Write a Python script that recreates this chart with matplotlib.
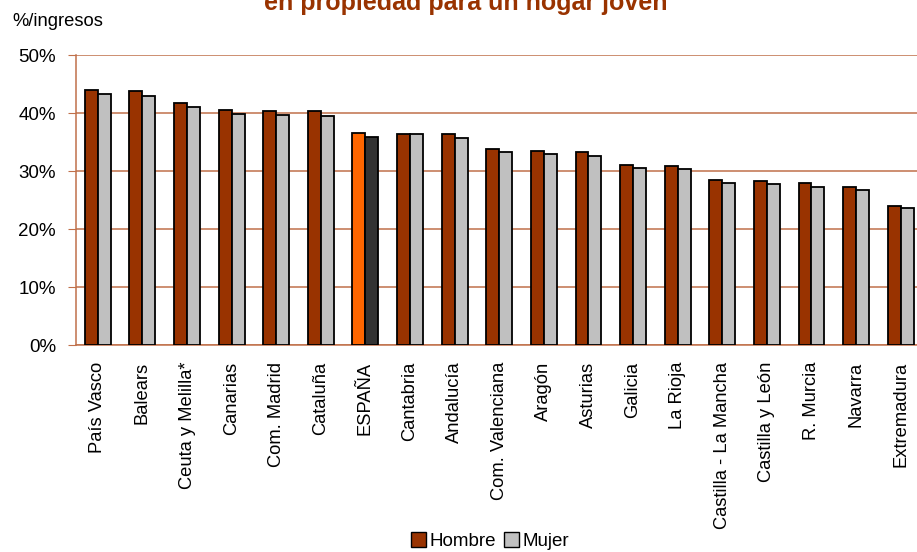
import matplotlib
matplotlib.use("Agg")
import matplotlib.pyplot as plt
import numpy as np
from matplotlib.patches import Patch

plt.rcParams['font.family'] = ['Liberation Sans', 'DejaVu Sans']

regions = ["País Vasco", "Balears", "Ceuta y Melilla*", "Canarias", "Com. Madrid",
           "Cataluña", "ESPAÑA", "Cantabria", "Andalucía", "Com. Valenciana",
           "Aragón", "Asturias", "Galicia", "La Rioja", "Castilla - La Mancha",
           "Castilla y León", "R. Murcia", "Navarra", "Extremadura"]
hombre = [44.0, 43.8, 41.7, 40.6, 40.3, 40.3, 36.6, 36.4, 36.4, 33.8,
          33.4, 33.2, 31.1, 30.8, 28.4, 28.2, 27.9, 27.2, 23.9]
mujer = [43.3, 43.0, 41.0, 39.9, 39.7, 39.5, 35.9, 36.3, 35.7, 33.2,
         32.9, 32.6, 30.5, 30.3, 27.9, 27.8, 27.3, 26.7, 23.7]
yticks = [0, 10, 20, 30, 40, 50]

c_h = "#993300"
c_m = "#C0C0C0"
c_h_esp = "#FF6600"
c_m_esp = "#333333"
grid_c = "#C0704A"

W, H = 917, 552
fig = plt.figure(figsize=(W / 100, H / 100), dpi=100)
ax = fig.add_axes([75.5 / W, 1 - 345 / H, (917 - 75.5) / W, 290 / H])

x = np.arange(len(regions))
bw = 0.29
cols_h = [c_h_esp if r == "ESPAÑA" else c_h for r in regions]
cols_m = [c_m_esp if r == "ESPAÑA" else c_m for r in regions]
ax.bar(x - bw / 2, hombre, bw, color=cols_h, edgecolor="black", linewidth=1.3, zorder=3)
ax.bar(x + bw / 2, mujer, bw, color=cols_m, edgecolor="black", linewidth=1.3, zorder=3)

ax.set_ylim(0, 50)
ax.set_xlim(-0.5, 18.5 - 6 / 44.6)
ax.set_yticks(yticks)
ax.set_yticklabels([f"{v}%" for v in yticks], fontsize=13.5)
ax.yaxis.grid(True, color=grid_c, linewidth=1.1, zorder=0)
ax.set_axisbelow(True)
ax.tick_params(axis="y", length=6, color=grid_c, pad=8)
ax.set_xticks(x)
ax.set_xticklabels(regions, rotation=90, fontsize=13.2)
ax.tick_params(axis="x", length=0, pad=12)
for s in ["top", "right"]:
    ax.spines[s].set_visible(False)
for s in ["left", "bottom"]:
    ax.spines[s].set_color(grid_c)
    ax.spines[s].set_linewidth(1.1)

fig.text(12 / W, 1 - 22 / H, "%/ingresos", fontsize=13.2, va="center", ha="left")
fig.text(466 / W, 1 - 10 / H, "en propiedad para un hogar joven", fontsize=18,
         fontweight="bold", color=c_h, ha="center", va="baseline")

handles = [Patch(facecolor=c_h, edgecolor="black", label="Hombre"),
           Patch(facecolor=c_m, edgecolor="black", label="Mujer")]
fig.legend(handles=handles, loc="center", bbox_to_anchor=(490 / W, 1 - 541 / H), ncol=2,
           frameon=False, fontsize=13.5, handlelength=0.8, handleheight=0.8,
           handletextpad=0.2, columnspacing=0.4, borderpad=0)

fig.savefig("out.png", dpi=100)
